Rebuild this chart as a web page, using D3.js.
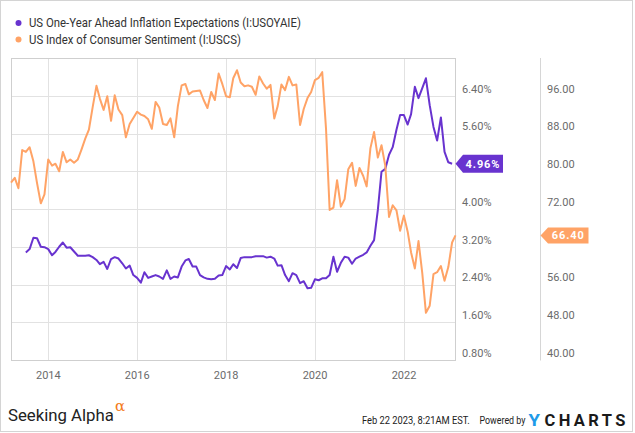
<!DOCTYPE html>
<html><head><meta charset="utf-8">
<script src="https://cdn.jsdelivr.net/npm/d3@7"></script>
<style>body{margin:0;background:#fff}svg{display:block;font-family:Roboto,"Noto Sans",sans-serif}</style>
</head><body><svg id="c" width="635" height="433"></svg>
<script>
// ---- data ----
const sentimentLabel = "US Index of Consumer Sentiment (I:USCS)";
const inflationLabel = "US One-Year Ahead Inflation Expectations (I:USOYAIE)";
const sentimentStart = [2013, 1]; // Feb 2013 (monthly, month-end)
const sentimentValues = [
  77.6, 78.6, 76.4, 84.5, 84.1, 85.1, 82.1, 77.5, 73.2, 75.1, 82.5,
  81.2, 81.6, 80.0, 84.1, 81.9, 82.5, 81.8, 82.5, 84.6, 86.9, 88.8, 93.6,
  98.1, 95.4, 93.0, 95.9, 90.7, 96.1, 93.1, 91.9, 87.2, 90.0, 91.3, 92.6,
  92.0, 91.7, 91.0, 89.0, 94.7, 93.5, 90.0, 89.8, 91.2, 87.2, 93.8, 98.2,
  98.5, 96.3, 96.9, 97.0, 97.1, 95.1, 93.4, 96.8, 95.1, 100.7, 98.5, 95.9,
  95.7, 99.7, 101.4, 98.8, 98.0, 98.2, 97.9, 96.2, 100.1, 98.6, 97.5, 98.3,
  91.2, 93.8, 98.4, 97.2, 100.0, 98.2, 98.4, 89.8, 93.2, 95.5, 96.8, 99.3,
  99.8, 101.0, 89.1, 71.8, 72.3, 78.1, 72.5, 74.1, 80.4, 81.8, 76.9, 80.7,
  79.0, 76.8, 84.9, 88.3, 82.9, 85.5, 81.2, 70.3, 72.8, 71.7, 67.4, 70.6,
  67.2, 62.8, 59.4, 65.2, 58.4, 50.0, 51.5, 58.2, 58.6, 59.9, 56.8, 59.7,
  64.9, 66.4
];
const inflationStart = [2013, 5]; // Jun 2013
const inflationValues = [
  3.08, 3.15, 3.39, 3.38, 3.20, 3.19, 3.15,
  3.02, 3.09, 3.20, 3.29, 3.18, 3.19, 3.10, 3.01, 3.01, 3.01, 3.02, 2.98,
  2.92, 2.83, 2.88, 2.73, 2.94, 2.98, 2.95, 2.85, 2.74, 2.80, 2.60, 2.54,
  2.44, 2.66, 2.54, 2.57, 2.60, 2.57, 2.52, 2.70, 2.52, 2.57, 2.55, 2.78,
  2.91, 2.94, 2.78, 2.78, 2.60, 2.55, 2.52, 2.51, 2.52, 2.59, 2.60, 2.79,
  2.72, 2.83, 2.75, 2.96, 2.98, 2.98, 2.98, 3.00, 3.00, 3.00, 2.97, 2.99,
  2.95, 2.80, 2.81, 2.60, 2.47, 2.64, 2.60, 2.43, 2.47, 2.32, 2.33, 2.51,
  2.49, 2.53, 2.53, 2.60, 2.99, 2.67, 2.86, 2.99, 2.97, 2.84, 2.95, 2.99,
  3.03, 3.08, 3.22, 3.34, 3.98, 4.79, 4.85, 5.15, 5.31, 5.68, 5.99, 5.99,
  5.79, 6.01, 6.59, 6.35, 6.56, 6.77, 6.20, 5.74, 5.45, 5.94, 5.21, 4.99,
  4.96
];
const yearTicks = [2014, 2016, 2018, 2020, 2022];
const inflationTicks = [0.8, 1.6, 2.4, 3.2, 4.0, 4.8, 5.6, 6.4];
const sentimentTicks = [40, 48, 56, 64, 72, 80, 88, 96];

// ---- setup ----
const purple = "#6833cf", orange = "#ffa366";
const svg = d3.select("#c");
const P = {l: 11, r: 455.5, t: 58, b: 360, r2: 540.5};
const monthEnd = (y, m) => new Date(y, m + 1, 0);
const sData = sentimentValues.map((v, i) => ({d: monthEnd(sentimentStart[0], sentimentStart[1] + i), v}));
const iData = inflationValues.map((v, i) => ({d: monthEnd(inflationStart[0], inflationStart[1] + i), v}));

const x = d3.scaleTime().domain([new Date(2013, 1, 28), new Date(2023, 1, 28)]).range([P.l, P.r]);
const yL = d3.scaleLinear().domain([0.8, 7.2]).range([P.b, P.t]);
const yR = d3.scaleLinear().domain([40, 104]).range([P.b, P.t]);

const lastI = iData[iData.length - 1], lastS = sData[sData.length - 1];
const flagIY = yL(lastI.v), flagSY = yR(lastS.v);

// text squeezed horizontally to a target width via a transform
function fitText(parent, str, x0, y0, width, attrs) {
  const t = parent.append("text").attr("x", 0).attr("y", 0).text(str);
  Object.entries(attrs).forEach(([k, v]) => t.attr(k, v));
  const L = t.node().getComputedTextLength();
  t.attr("transform", `translate(${x0},${y0}) scale(${width / L},1)`);
  return t;
}

// outer border
svg.append("rect").attr("x", 0.5).attr("y", 0.5).attr("width", 632).attr("height", 431)
  .attr("fill", "none").attr("stroke", "#d4d4d4");

// gridlines
const g = svg.append("g");
g.selectAll(".hg").data(inflationTicks).join("line")
  .attr("x1", P.l).attr("x2", P.r)
  .attr("y1", d => Math.round(yL(d)) + 0.5).attr("y2", d => Math.round(yL(d)) + 0.5)
  .attr("stroke", "#e2e2e2");
g.selectAll(".vg").data(yearTicks).join("line")
  .attr("x1", d => Math.round(x(new Date(d, 0, 1))) + 0.5).attr("x2", d => Math.round(x(new Date(d, 0, 1))) + 0.5)
  .attr("y1", P.t).attr("y2", P.b)
  .attr("stroke", "#e2e2e2");
// plot frame
svg.append("rect").attr("x", P.l + 0.5).attr("y", P.t + 0.5).attr("width", P.r - P.l - 0.5).attr("height", P.b - P.t)
  .attr("fill", "none").attr("stroke", "#cfcfcf");
svg.append("line").attr("x1", P.r2).attr("x2", P.r2).attr("y1", P.t).attr("y2", P.b + 0.5).attr("stroke", "#d6d6d6");

// x labels
svg.append("g").selectAll("text").data(yearTicks).join("text")
  .attr("x", d => x(new Date(d, 0, 1))).attr("y", 378.5)
  .attr("text-anchor", "middle").attr("font-size", 11).attr("fill", "#6b6b6b")
  .text(d => d);

// axis labels (labels hidden behind the last-value flags are skipped)
const hidden = (yPos, fy) => Math.abs((yPos - 7) - fy) < 10;
svg.append("g").selectAll("text").data(inflationTicks.filter(d => !hidden(yL(d), flagIY))).join("text")
  .attr("x", 462).attr("y", d => yL(d) - 3.2)
  .attr("font-size", 11).attr("fill", "#6b6b6b")
  .text(d => d3.format(".2f")(d) + "%");
svg.append("g").selectAll("text").data(sentimentTicks.filter(d => !hidden(yR(d), flagSY))).join("text")
  .attr("x", 547).attr("y", d => yR(d) - 3.2)
  .attr("font-size", 11).attr("fill", "#6b6b6b")
  .text(d => d3.format(".2f")(d));

// lines
const lineL = d3.line().x(d => x(d.d)).y(d => yL(d.v));
const lineR = d3.line().x(d => x(d.d)).y(d => yR(d.v));
svg.append("path").datum(iData).attr("d", lineL).attr("fill", "none")
  .attr("stroke", purple).attr("stroke-width", 2).attr("stroke-linejoin", "round");
svg.append("path").datum(sData).attr("d", lineR).attr("fill", "none")
  .attr("stroke", orange).attr("stroke-width", 2).attr("stroke-linejoin", "round");

// flags
function flag(xTip, yc, w, h, color, label) {
  const a = 7.5;
  svg.append("path")
    .attr("d", `M${xTip},${yc}L${xTip + a},${yc - h / 2}L${xTip + a + w},${yc - h / 2}L${xTip + a + w},${yc + h / 2}L${xTip + a},${yc + h / 2}Z`)
    .attr("fill", color);
  svg.append("text").attr("x", xTip + a + w / 2).attr("y", yc + 4)
    .attr("text-anchor", "middle").attr("font-size", 11).attr("font-weight", 700)
    .attr("letter-spacing", 0.9).attr("fill", "#fff").text(label);
}
flag(P.r, flagIY, 40, 18, purple, d3.format(".2f")(lastI.v) + "%");
flag(P.r2, flagSY, 40.5, 16, orange, d3.format(".2f")(lastS.v));

// legend
const leg = [{c: purple, t: inflationLabel, y: 23, w: 272}, {c: orange, t: sentimentLabel, y: 39.5, w: 212}];
const lg = svg.append("g");
lg.selectAll("circle").data(leg).join("circle").attr("cx", 18.5).attr("cy", d => d.y).attr("r", 3).attr("fill", d => d.c);
leg.forEach(d => fitText(lg, d.t, 29, d.y + 4.3, d.w, {"font-size": 12, fill: "#333"}));

// footer
const ft = svg.append("g");
fitText(ft, "Seeking Alpha", 8, 421, 106, {"font-size": 16, fill: "#222"});
ft.append("text").attr("x", 115).attr("y", 411).attr("font-size", 15)
  .attr("font-family", "'DejaVu Serif', serif").attr("fill", "#f47b20").text("α");
fitText(ft, "Feb 22 2023, 8:21AM EST.", 362, 424.3, 108, {"font-size": 11, fill: "#222"});
fitText(ft, "Powered by", 479.5, 424.3, 46, {"font-size": 11, fill: "#222"});
fitText(ft, "Y", 528.5, 425.7, 11.5, {"font-size": 16, "font-weight": 700, fill: "#1e9be9"});
ft.append("text").attr("x", 544.5).attr("y", 425.7).attr("font-size", 16.5).attr("font-weight", 700)
  .attr("fill", "#1a1a1a").attr("textLength", 81).attr("lengthAdjust", "spacing").text("CHARTS");
</script></body></html>
